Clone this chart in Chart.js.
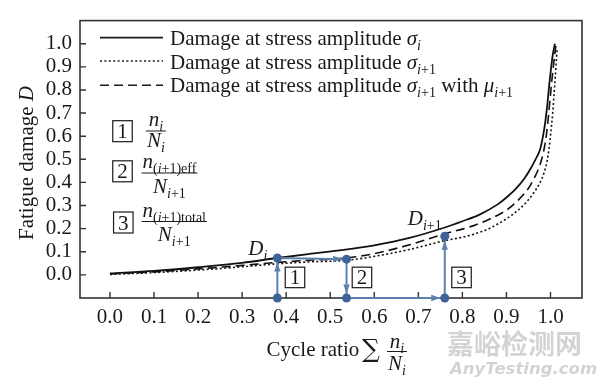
<!DOCTYPE html>
<html>
<head>
<meta charset="utf-8">
<script src="https://cdn.jsdelivr.net/npm/chart.js@4/dist/chart.umd.min.js"></script>
<style>
html,body{margin:0;padding:0;background:#fff;}
canvas{display:block;}
</style>
</head>
<body>
<canvas id="c" width="600" height="383"></canvas>
<script>
// ---- data ----
const xTickValues = [0.0,0.1,0.2,0.3,0.4,0.5,0.6,0.7,0.8,0.9,1.0];
const yTickValues = [0.0,0.1,0.2,0.3,0.4,0.5,0.6,0.7,0.8,0.9,1.0];

// Damage at stress amplitude sigma_i (solid)
const ratioSolid  = [0,0.1,0.2,0.3,0.38,0.45,0.53,0.6,0.68,0.76,0.8,0.84,0.88,0.9,0.92,0.94,0.955,0.966,0.976,0.983,0.988,0.993,0.997,1.001,1.005,1.01];
const damageSolid = [0.006,0.017,0.033,0.052,0.073,0.09,0.108,0.128,0.16,0.205,0.232,0.262,0.305,0.335,0.37,0.415,0.46,0.5,0.54,0.6,0.66,0.74,0.82,0.89,0.95,1.0];

// Damage at stress amplitude sigma_{i+1} with mu_{i+1} (dashed)
const ratioDashed  = [0,0.1,0.2,0.3,0.38,0.45,0.537,0.6,0.68,0.76,0.8,0.824,0.86,0.9,0.93,0.95,0.962,0.972,0.98,0.986,0.991,0.995,0.999,1.003,1.007,1.012];
const damageDashed = [0.004,0.013,0.026,0.041,0.054,0.063,0.073,0.092,0.13,0.178,0.198,0.212,0.24,0.28,0.33,0.375,0.415,0.455,0.5,0.55,0.61,0.68,0.76,0.84,0.91,0.99];

// Damage at stress amplitude sigma_{i+1} (dotted)
const ratioDotted  = [0,0.1,0.2,0.3,0.38,0.45,0.537,0.6,0.68,0.76,0.8,0.824,0.86,0.9,0.93,0.95,0.962,0.975,0.985,0.992,0.997,1.001,1.005,1.008,1.011,1.013,1.015];
const damageDotted = [0.002,0.01,0.021,0.035,0.048,0.056,0.063,0.08,0.11,0.148,0.163,0.175,0.2,0.243,0.285,0.325,0.355,0.395,0.44,0.49,0.55,0.62,0.7,0.78,0.86,0.92,0.98];

// blue construction path (markers + arrows)
const pathRatio  = [0.38,0.38,0.537,0.537,0.76,0.76];
const pathDamage = [-0.1,0.073,0.068,-0.1,-0.1,0.167];

// boxed step labels on the chart
const stepLabels = ['1','2','3'];
const stepRatio  = [0.42,0.572,0.798];
const stepDamage = [-0.011,-0.011,-0.011];

const pts = (xs, ys) => xs.map((x,i)=>({x:x, y:ys[i]}));

const SERIF = '"Liberation Serif","DejaVu Serif",serif';
const FS = 21;
const INK = '#1a1a1a';
const BLUE_LINE = '#5f81ad';
const BLUE_DOT = '#3e6397';

function font(size, italic){ return (italic?'italic ':'') + size + 'px ' + SERIF; }

// parts: [text, italic, sub]
function richWidth(ctx, parts, size){
  let w = 0;
  for (const p of parts){
    ctx.font = font(p[2] ? Math.round(size*0.68) : size, p[1]);
    w += ctx.measureText(p[0]).width;
  }
  return w;
}
function drawRich(ctx, x, y, parts, size){
  ctx.textBaseline = 'alphabetic';
  ctx.textAlign = 'left';
  for (const p of parts){
    const s = p[2] ? Math.round(size*0.68) : size;
    ctx.font = font(s, p[1]);
    ctx.fillText(p[0], x, y + (p[2] ? size*0.24 : 0));
    x += ctx.measureText(p[0]).width;
  }
  return x;
}
function drawFraction(ctx, x, barY, num, den, numBase, denBase, size){
  const wn = richWidth(ctx, num, size), wd = richWidth(ctx, den, size);
  const w = Math.max(wn, wd) + 2;
  drawRich(ctx, x + (w-wn)/2, numBase, num, size);
  drawRich(ctx, x + (w-wd)/2, denBase, den, size);
  ctx.beginPath(); ctx.moveTo(x, barY); ctx.lineTo(x+w, barY);
  ctx.lineWidth = 1; ctx.strokeStyle = INK; ctx.stroke();
}
function boxNum(ctx, cx, cy, label, w, h){
  ctx.fillStyle = '#fff';
  ctx.fillRect(cx-w/2, cy-h/2, w, h);
  ctx.lineWidth = 1.2; ctx.strokeStyle = INK;
  ctx.strokeRect(cx-w/2, cy-h/2, w, h);
  ctx.fillStyle = INK; ctx.font = font(FS,false);
  ctx.textAlign='center'; ctx.textBaseline='alphabetic';
  ctx.fillText(label, cx, cy+7);
}

const overlay = {
  id:'overlay',
  beforeDatasetsDraw(chart){
    const ctx = chart.ctx, a = chart.chartArea, xs = chart.scales.x, ys = chart.scales.y;
    ctx.save();
    ctx.strokeStyle = '#333'; ctx.lineWidth = 1.6;
    ctx.strokeRect(a.left, a.top, a.right-a.left, a.bottom-a.top);
    ctx.lineWidth = 1.4;
    ctx.beginPath();
    for (const v of xTickValues){ const px = xs.getPixelForValue(v); ctx.moveTo(px, a.bottom); ctx.lineTo(px, a.bottom-6); }
    for (const v of yTickValues){ const py = ys.getPixelForValue(v); ctx.moveTo(a.left, py); ctx.lineTo(a.left+6, py); }
    ctx.stroke();
    ctx.restore();
  },
  afterDatasetsDraw(chart){
    const ctx = chart.ctx, xs = chart.scales.x, ys = chart.scales.y;
    ctx.save();
    // arrowheads: tip at the edge of the next marker
    ctx.fillStyle = BLUE_LINE;
    for (let i=0;i<pathRatio.length-1;i++){
      const x0 = xs.getPixelForValue(pathRatio[i]), y0 = ys.getPixelForValue(pathDamage[i]);
      const x1 = xs.getPixelForValue(pathRatio[i+1]), y1 = ys.getPixelForValue(pathDamage[i+1]);
      const ang = Math.atan2(y1-y0, x1-x0);
      const tx = x1 - Math.cos(ang)*4.5, ty = y1 - Math.sin(ang)*4.5;
      const L = 9, H = 3.2;
      ctx.beginPath();
      ctx.moveTo(tx, ty);
      ctx.lineTo(tx - Math.cos(ang)*L - Math.sin(ang)*H, ty - Math.sin(ang)*L + Math.cos(ang)*H);
      ctx.lineTo(tx - Math.cos(ang)*L + Math.sin(ang)*H, ty - Math.sin(ang)*L - Math.cos(ang)*H);
      ctx.closePath(); ctx.fill();
    }
    // boxed step numbers
    for (let i=0;i<stepLabels.length;i++){
      boxNum(ctx, xs.getPixelForValue(stepRatio[i]), ys.getPixelForValue(stepDamage[i]), stepLabels[i], 19.5, 20.5);
    }
    // D_i and D_{i+1}
    ctx.fillStyle = INK;
    const pxi = xs.getPixelForValue(pathRatio[1]), pyi = ys.getPixelForValue(pathDamage[1]);
    drawRich(ctx, pxi-29, pyi-3, [['D',true,false],['i',true,true]], FS);
    const px3 = xs.getPixelForValue(pathRatio[5]), py3 = ys.getPixelForValue(pathDamage[5]);
    drawRich(ctx, px3-37, py3-11, [['D',true,false],['i',true,true],['+1',false,true]], FS);
    ctx.restore();
  },
  afterDraw(chart){
    const ctx = chart.ctx;
    ctx.save();
    ctx.fillStyle = INK; ctx.strokeStyle = INK;
    // legend lines
    const rows = [37.7, 61, 85.3];
    const dashes = [[], [2,2.4], [9,5]];
    const widths = [1.8, 1.6, 1.6];
    for (let i=0;i<3;i++){
      ctx.beginPath(); ctx.setLineDash(dashes[i]); ctx.lineWidth = widths[i];
      ctx.moveTo(100, rows[i]); ctx.lineTo(163, rows[i]); ctx.stroke();
    }
    ctx.setLineDash([]);
    const base = 'Damage at stress amplitude ';
    drawRich(ctx, 170, 45, [[base,false,false],['σ',true,false],['i',true,true]], FS);
    drawRich(ctx, 170, 68.5, [[base,false,false],['σ',true,false],['i',true,true],['+1',false,true]], FS);
    drawRich(ctx, 170, 92, [[base,false,false],['σ',true,false],['i',true,true],['+1',false,true],[' with ',false,false],['μ',true,false],['i',true,true],['+1',false,true]], FS);

    // boxed formula legend
    boxNum(ctx, 122.5, 131.2, '1', 19.5, 21);
    boxNum(ctx, 122.5, 171.3, '2', 19.5, 21);
    boxNum(ctx, 123.3, 222.5, '3', 19.5, 21);
    ctx.fillStyle = INK;
    drawFraction(ctx, 146, 131, [['n',true,false],['i',true,true]], [['N',true,false],['i',true,true]], 125.5, 146.5, FS);
    drawFraction(ctx, 141.5, 173, [['n',true,false],['(',false,true],['i',true,true],['+1)eff',false,true]], [['N',true,false],['i',true,true],['+1',false,true]], 167.5, 192.5, FS);
    drawFraction(ctx, 141.5, 221.5, [['n',true,false],['(',false,true],['i',true,true],['+1)total',false,true]], [['N',true,false],['i',true,true],['+1',false,true]], 216.5, 241, FS);

    // y axis title
    ctx.save();
    ctx.translate(33, 163); ctx.rotate(-Math.PI/2);
    const yt = [['Fatigue damage ',false,false],['D',true,false]];
    drawRich(ctx, -richWidth(ctx, yt, FS)/2, 0, yt, FS);
    ctx.restore();

    // x axis title
    drawRich(ctx, 266.5, 355.7, [['Cycle ratio ',false,false]], FS);
    ctx.font = '25px "DejaVu Serif","Liberation Serif",serif';
    ctx.textAlign = 'left'; ctx.textBaseline = 'alphabetic';
    ctx.fillText('∑', 362, 357);
    drawFraction(ctx, 387, 351.5, [['n',true,false],['i',true,true]], [['N',true,false],['i',true,true]], 347.5, 369.5, FS);

    // watermark
    ctx.fillStyle = 'rgba(150,150,150,0.42)';
    ctx.font = 'bold 27px "Noto Sans CJK SC",sans-serif';
    ctx.textAlign = 'left'; ctx.textBaseline = 'alphabetic';
    ctx.fillText('嘉峪检测网', 447, 354);
    ctx.font = 'italic bold 16.5px "DejaVu Sans",sans-serif';
    ctx.fillText('AnyTesting.com', 450, 374);
    ctx.restore();
  }
};

const tickFont = {family: SERIF, size: FS};
new Chart(document.getElementById('c'), {
  type: 'scatter',
  data: {
    datasets: [
      {data: pts(pathRatio, pathDamage), showLine:false, pointRadius:4.5, pointBackgroundColor:BLUE_DOT, pointBorderWidth:0, clip:false},
      {data: pts(pathRatio, pathDamage), showLine:true, borderColor:BLUE_LINE, borderWidth:2, pointRadius:0, tension:0, clip:false},
      {data: pts(ratioSolid, damageSolid), showLine:true, borderColor:'#111', borderWidth:1.8, pointRadius:0, cubicInterpolationMode:'monotone', clip:false},
      {data: pts(ratioDashed, damageDashed), showLine:true, borderColor:'#111', borderWidth:1.6, borderDash:[9,5], pointRadius:0, cubicInterpolationMode:'monotone', clip:false},
      {data: pts(ratioDotted, damageDotted), showLine:true, borderColor:'#111', borderWidth:1.6, borderDash:[2,2.4], pointRadius:0, cubicInterpolationMode:'monotone', clip:false}
    ]
  },
  options: {
    responsive:false, animation:false, devicePixelRatio:1,
    layout:{padding:{top:14, right:18, left:0, bottom:0}},
    plugins:{legend:{display:false}, tooltip:{enabled:false}},
    events: [],
    scales:{
      x:{type:'linear', min:-0.068, max:1.0715,
         afterBuildTicks:(s)=>{ s.ticks = xTickValues.map(v=>({value:v})); },
         afterFit:(s)=>{ s.height = 85; },
         ticks:{font:tickFont, color:INK, padding:7, maxRotation:0, autoSkip:false, callback:(v)=>Number(v).toFixed(1)},
         grid:{display:false, drawTicks:false}, border:{display:false}},
      y:{type:'linear', min:-0.1, max:1.1,
         afterBuildTicks:(s)=>{ s.ticks = yTickValues.map(v=>({value:v})); },
         afterFit:(s)=>{ s.width = 80; },
         ticks:{font:tickFont, color:INK, padding:8, autoSkip:false, callback:(v)=>Number(v).toFixed(1)},
         grid:{display:false, drawTicks:false}, border:{display:false}}
    }
  },
  plugins:[overlay]
});
</script>
</body>
</html>
